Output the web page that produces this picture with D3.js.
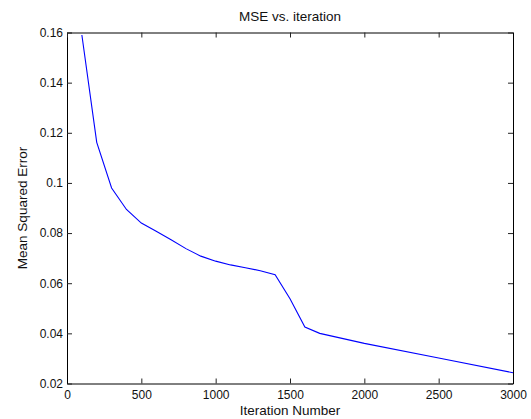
<!DOCTYPE html>
<html>
<head>
<meta charset="utf-8">
<script src="https://cdn.jsdelivr.net/npm/d3@7/dist/d3.min.js"></script>
<style>
  html, body { margin: 0; padding: 0; background: #fff; }
  svg { display: block; font-family: "Liberation Sans", Arial, sans-serif; }
</style>
</head>
<body>
<svg id="chart" width="531" height="419"></svg>
<script>
// Training curve: mean squared error recorded at each iteration checkpoint
const iterations = [100, 200, 300, 400, 500, 600, 700, 800, 900, 1000, 1100, 1200, 1300, 1400, 1500, 1600, 1700, 2000, 2500, 3000];
const mseValues  = [0.159, 0.1162, 0.0980, 0.0894, 0.0840, 0.0807, 0.0773, 0.0738, 0.0708, 0.0688, 0.0673, 0.0662, 0.0650, 0.0634, 0.0538, 0.0425, 0.0400, 0.0360, 0.0302, 0.0243];

const xTicks = [0, 500, 1000, 1500, 2000, 2500, 3000];
const yTicks = [0.02, 0.04, 0.06, 0.08, 0.1, 0.12, 0.14, 0.16];

const titleText = "MSE vs. iteration";
const xLabelText = "Iteration Number";
const yLabelText = "Mean Squared Error";

const svg = d3.select("#chart");
const plotLeft = 67, plotRight = 513, plotTop = 32.5, plotBottom = 383.5;

const x = d3.scaleLinear().domain([0, 3000]).range([plotLeft, plotRight]);
const y = d3.scaleLinear().domain([0.02, 0.16]).range([plotBottom, plotTop]);

// data line
const line = d3.line().x((d, i) => x(iterations[i])).y(d => y(d));
svg.append("path").datum(mseValues)
  .attr("d", line)
  .attr("fill", "none")
  .attr("stroke", "#0000ff")
  .attr("stroke-width", 1.1);

const tickLen = 5;
const fmtY = d => (d === 0.1 ? "0.1" : d3.format(".2f")(d));

// bottom axis with inward ticks
const xAxis = d3.axisBottom(x).tickValues(xTicks).tickSizeInner(-tickLen).tickSizeOuter(0).tickPadding(7).tickFormat(d3.format("d"));
const gx = svg.append("g").attr("transform", `translate(0,${plotBottom})`).call(xAxis);
// left axis with inward ticks
const yAxis = d3.axisLeft(y).tickValues(yTicks).tickSizeInner(-tickLen).tickSizeOuter(0).tickPadding(4).tickFormat(fmtY);
const gy = svg.append("g").attr("transform", `translate(${plotLeft},0)`).call(yAxis);
// top and right mirror axes (ticks only)
const gxt = svg.append("g").attr("transform", `translate(0,${plotTop})`)
  .call(d3.axisTop(x).tickValues(xTicks).tickSizeInner(-tickLen).tickSizeOuter(0).tickFormat(""));
const gyr = svg.append("g").attr("transform", `translate(${plotRight},0)`)
  .call(d3.axisRight(y).tickValues(yTicks).tickSizeInner(-tickLen).tickSizeOuter(0).tickFormat(""));

[gx, gy, gxt, gyr].forEach(g => {
  g.select(".domain").attr("stroke", "#000").attr("stroke-width", 1);
  g.selectAll(".tick line").attr("stroke", "#222").attr("stroke-width", 1);
  g.selectAll(".tick text").attr("fill", "#111").style("font-size", "12px")
    .style("font-family", "'Liberation Sans', Arial, sans-serif");
});

// axis labels and title
svg.append("text").attr("x", (plotLeft + plotRight) / 2).attr("y", 20.5)
  .attr("text-anchor", "middle").attr("fill", "#111")
  .style("font-size", "13.5px").text(titleText);
svg.append("text").attr("x", (plotLeft + plotRight) / 2).attr("y", 414.5)
  .attr("text-anchor", "middle").attr("fill", "#111")
  .style("font-size", "13.5px").text(xLabelText);
svg.append("text")
  .attr("transform", `translate(26.5,${(plotTop + plotBottom) / 2}) rotate(-90)`)
  .attr("text-anchor", "middle").attr("fill", "#111")
  .style("font-size", "13.5px").text(yLabelText);
</script>
</body>
</html>
